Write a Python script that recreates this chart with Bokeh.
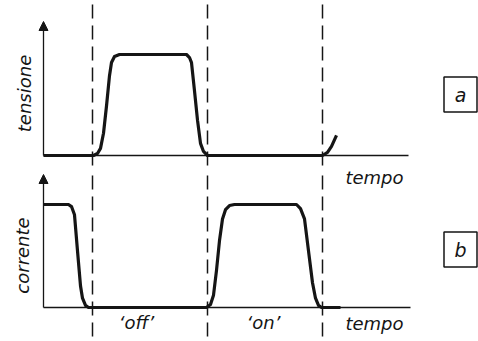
from bokeh.plotting import figure
from bokeh.models import Range1d, Arrow, NormalHead, Label
from bokeh.embed import file_html
from bokeh.resources import INLINE

# ---- data (time in arbitrary units, signal normalised 0..1) ----
tempo_tensione = [0, 50, 54, 57, 60, 63, 66, 68, 71, 76, 143, 146, 148, 151, 154, 157, 160, 164, 279, 284, 288, 293]
tensione = [0, 0, 0.02, 0.07, 0.22, 0.49, 0.79, 0.92, 0.98, 1.0, 1.0, 0.97, 0.92, 0.64, 0.35, 0.12, 0.04, 0, 0, 0.03, 0.09, 0.2]

tempo_corrente = [0, 25, 28, 31, 34, 37, 39, 42, 45, 163, 167, 170, 173, 176, 179, 182, 186, 191, 253, 257, 261, 265, 269, 272, 275, 278, 297]
corrente = [1.0, 1.0, 0.98, 0.90, 0.55, 0.21, 0.09, 0.02, 0, 0, 0.03, 0.12, 0.36, 0.65, 0.86, 0.95, 0.99, 1.0, 1.0, 0.96, 0.86, 0.55, 0.24, 0.09, 0.02, 0, 0]

istanti_commutazione = [49, 164, 279]   # dashed switching instants
fine_asse = [365, 367]                   # end of time axes (top, bottom)
etichette_stato = ["\u2018off\u2019", "\u2018on\u2019"]
etichetta_tempo = "tempo"

# ---- layout (pixel geometry of the page) ----
PAGE = 0             # page offset of the canvas
W, H = 478, 341
ORIG_X = 43          # page x of time origin
TOP_BASE, TOP_UNIT = 155, 101
BOT_BASE, BOT_UNIT = 307, 103

def ty(px):  # page y -> tensione units
    return (TOP_BASE - px) / TOP_UNIT

def cy(px):  # page y -> corrente units
    return (BOT_BASE - px) / BOT_UNIT

def tx(px):
    return px - ORIG_X

p = figure(width=W, height=H, output_backend="svg", toolbar_location=None,
           x_axis_type=None, y_axis_type=None,
           x_range=Range1d(tx(PAGE), tx(PAGE + W)),
           y_range=Range1d(ty(PAGE + H), ty(PAGE)),
           min_border=0)
p.extra_y_ranges = {"cor": Range1d(cy(PAGE + H), cy(PAGE))}
p.grid.visible = False
p.outline_line_color = None
p.background_fill_color = "white"
p.border_fill_color = "white"

ink = "#151515"

# axes
p.line([0, fine_asse[0]], [0, 0], line_color=ink, line_width=1.6)
p.line([0, fine_asse[1]], [0, 0], line_color=ink, line_width=1.6, y_range_name="cor")
p.add_layout(Arrow(end=NormalHead(size=9, fill_color=ink, line_color=ink),
                   x_start=0, y_start=0, x_end=0, y_end=ty(21),
                   line_color=ink, line_width=1.3))
p.add_layout(Arrow(end=NormalHead(size=9, fill_color=ink, line_color=ink),
                   x_start=0, y_start=0, x_end=0, y_end=cy(174),
                   line_color=ink, line_width=1.3, y_range_name="cor"))

# dashed switching lines
n = len(istanti_commutazione)
p.segment(x0=istanti_commutazione, x1=istanti_commutazione,
          y0=[ty(4)] * n, y1=[ty(166)] * n,
          line_color=ink, line_width=1.5, line_dash="14 7")
p.segment(x0=istanti_commutazione, x1=istanti_commutazione,
          y0=[cy(175)] * n, y1=[cy(338)] * n,
          line_color=ink, line_width=1.5, line_dash="14 7", y_range_name="cor")

# waveforms
p.line(tempo_tensione, tensione, line_color=ink, line_width=3.2, line_join="round")
p.line(tempo_corrente, corrente, line_color=ink, line_width=3.2, line_join="round",
       y_range_name="cor")

font = "DejaVu Sans"
def lab(text, x, y, size=18, angle=0, rng="default"):
    p.add_layout(Label(x=x, y=y, text=text, text_font=font, text_font_size=f"{size}px",
                       text_font_style="italic", text_color=ink, angle=angle,
                       text_align="center", text_baseline="middle",
                       y_range_name=rng))

lab("tensione", tx(24), ty(93), angle=1.5708)
lab("corrente", tx(22), cy(255), angle=1.5708, rng="cor")
lab(etichetta_tempo, tx(374), cy(177), rng="cor")
lab(etichetta_tempo, tx(374), cy(323), rng="cor")
lab(etichette_stato[0], tx(136), cy(322), rng="cor")
lab(etichette_stato[1], tx(263), cy(322), rng="cor")

# boxed panel letters
for letter, py, rng, f in (("a", 94, "default", ty), ("b", 249, "cor", cy)):
    p.rect(x=[tx(460)], y=[f(py)], width=33, height=35, width_units="screen",
           height_units="screen", fill_color=None, line_color=ink, line_width=1.5,
           y_range_name=rng)
    lab(letter, tx(460), f(py), size=19, rng=rng)

open("out.html", "w").write(file_html(p, INLINE))
